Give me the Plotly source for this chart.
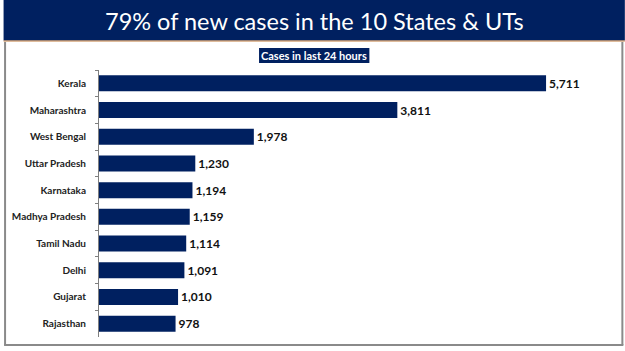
import plotly.graph_objects as go

states = ["Kerala", "Maharashtra", "West Bengal", "Uttar Pradesh", "Karnataka",
          "Madhya Pradesh", "Tamil Nadu", "Delhi", "Gujarat", "Rajasthan"]
cases = [5711, 3811, 1978, 1230, 1194, 1159, 1114, 1091, 1010, 978]
title_text = "79% of new cases in the 10 States & UTs"
subtitle_text = "Cases in last 24 hours"

NAVY = "#002060"
W, H = 625, 351
ML, MR, MT, MB = 96, 25, 70, 14
PW, PH = W - ML - MR, H - MT - MB


def px(x):
    return (x - ML) / PW


def py(y):
    return (H - MB - y) / PH


fig = go.Figure(go.Bar(
    y=states, x=cases, orientation="h",
    marker=dict(color=NAVY, line=dict(width=0)),
    texttemplate="%{x:,}", textposition="outside",
    textfont=dict(family="Lato", size=12, color="#111111", weight="bold"),
    cliponaxis=False,
))

shapes = [
    dict(type="rect", xref="paper", yref="paper", x0=px(0), x1=px(W), y0=py(0), y1=py(40.5),
         fillcolor=NAVY, line=dict(width=0), layer="below"),
    dict(type="line", xref="paper", yref="paper", x0=px(0), x1=px(W), y0=py(41), y1=py(41),
         line=dict(color="#c07a3a", width=1.2)),
    dict(type="line", xref="paper", yref="paper", x0=px(1.5), x1=px(1.5), y0=py(42), y1=py(345),
         line=dict(color="#8a8a8a", width=2)),
    dict(type="line", xref="paper", yref="paper", x0=px(622.5), x1=px(622.5), y0=py(42), y1=py(345),
         line=dict(color="#8a8a8a", width=2)),
    dict(type="line", xref="paper", yref="paper", x0=px(0.5), x1=px(623.5), y0=py(345), y1=py(345),
         line=dict(color="#8a8a8a", width=2)),
    dict(type="rect", xref="paper", yref="paper", x0=px(257), x1=px(368), y0=py(48), y1=py(63),
         fillcolor=NAVY, line=dict(width=0)),
]

annotations = [
    dict(text=title_text, xref="paper", yref="paper", x=px(312.5), y=py(20.5),
         xanchor="center", yanchor="middle", showarrow=False,
         font=dict(family="Lato", size=23.5, color="white")),
    dict(text=subtitle_text, xref="paper", yref="paper", x=px(312.5), y=py(55.5),
         xanchor="center", yanchor="middle", showarrow=False,
         font=dict(family="Lato", size=11, color="white", weight="bold")),
]

fig.update_layout(
    width=W, height=H,
    margin=dict(l=ML, r=MR, t=MT, b=MB),
    paper_bgcolor="white", plot_bgcolor="white",
    bargap=0.4,
    showlegend=False,
    shapes=shapes,
    annotations=annotations,
    xaxis=dict(range=[0, 6400], visible=False, showgrid=False, zeroline=False),
    yaxis=dict(autorange="reversed", showline=True, linecolor="#7f7f7f", linewidth=1,
               ticks="outside", ticklen=3, tickcolor="#7f7f7f", tickson="boundaries",
               showgrid=False, zeroline=False, ticklabelstandoff=10,
               tickfont=dict(family="Lato", size=10, color="#222222", weight="bold")),
)

fig.write_html("out.html")
